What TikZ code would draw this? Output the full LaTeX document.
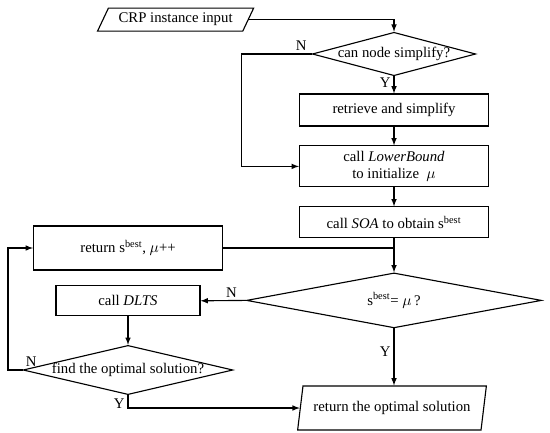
\documentclass[tikz,border=0pt]{standalone}
\usepackage{fontspec}
\setmainfont{Liberation Serif}
\usetikzlibrary{shapes.geometric}

\begin{document}
\begin{tikzpicture}[
        >=latex,
        font=\fontsize{10.5}{12.6}\selectfont,
        process/.style={rectangle, draw, thick, minimum width=4.725cm, inner sep=1pt, align=center},
        decision/.style={diamond, draw, thick, inner sep=0pt},
        io/.style={trapezium, draw, thick, trapezium stretches=true, inner sep=1pt},
        flow/.style={->, thick},
        branch_label/.style={inner sep=2pt}
    ]
        \useasboundingbox (0,0) rectangle (13.75,-10.8);

        % start: input and the simplify check
        \node[io, trapezium left angle=59, trapezium right angle=121, minimum width=3.925cm, minimum height=0.575cm] (input) at (4.39,-0.49) {CRP instance input};
        \node[decision, aspect=3.76, minimum width=3.95cm, minimum height=1.05cm] (simp_q) at (9.85,-1.35) {can node simplify?};
        \node[process, minimum height=0.8cm] (retrieve) at (9.85,-2.75) {retrieve and simplify};
        \node[process, minimum height=1.025cm] (lower) at (9.85,-4.16) {call \textit{LowerBound}\\to initialize \ $\mu$};
        \node[process, minimum height=0.775cm] (soa) at (9.85,-5.56) {call \textit{SOA} to obtain s\textsuperscript{best}};
        \coordinate (n_bend) at (6.03,-1.35);

        \draw[flow] (input.right side) -| (simp_q.north);
        \draw[flow] (simp_q.west) -- node[branch_label, above, pos=0.15] {N} (n_bend) |- (lower.west);
        \draw[flow] (simp_q.south) -- node[branch_label, left, pos=0.4] {Y} (retrieve.north);
        \draw[flow] (retrieve) -- (lower);
        \draw[flow] (lower) -- (soa);

        % main loop: compare with the bound
        \node[process, minimum height=1.1cm] (ret_best) at (3.2,-6.2) {return s\textsuperscript{best}, $\mu$++};
        \node[decision, aspect=5.36, minimum width=7.375cm, minimum height=1.375cm] (check_q) at (9.85,-7.51) {s\textsuperscript{best}= $\mu$\,?};
        \node[process, minimum width=3.6cm, minimum height=0.75cm] (dlts) at (3.2,-7.52) {call \textit{DLTS}};
        \node[decision, aspect=4.26, minimum width=4.9cm, minimum height=1.15cm] (opt_q) at (3.2,-9.25) {find the optimal solution?};
        \node[io, trapezium left angle=73.5, trapezium right angle=106.5, minimum width=4.725cm, minimum height=1.1cm] (output) at (9.8,-10.2) {return the optimal solution};
        \coordinate (loop_bend) at (0.2,-9.25);

        \draw[flow] (soa) -- (check_q);
        \draw[thick] (ret_best.east) -- (ret_best.east -| check_q.north);
        \draw[flow] (check_q.west) -- node[branch_label, above, pos=0.32] {N} (dlts.east);
        \draw[flow] (check_q.south) -- node[branch_label, left, pos=0.4] {Y} (output.north -| check_q.south);
        \draw[flow] (dlts) -- (opt_q);
        \draw[flow] (opt_q.west) node[branch_label, above right] {N} -- (loop_bend) |- (ret_best.west);
        \draw[flow] (opt_q.south) |- node[branch_label, left, pos=0.35] {Y} (output.left side);
    \end{tikzpicture}
\end{document}
